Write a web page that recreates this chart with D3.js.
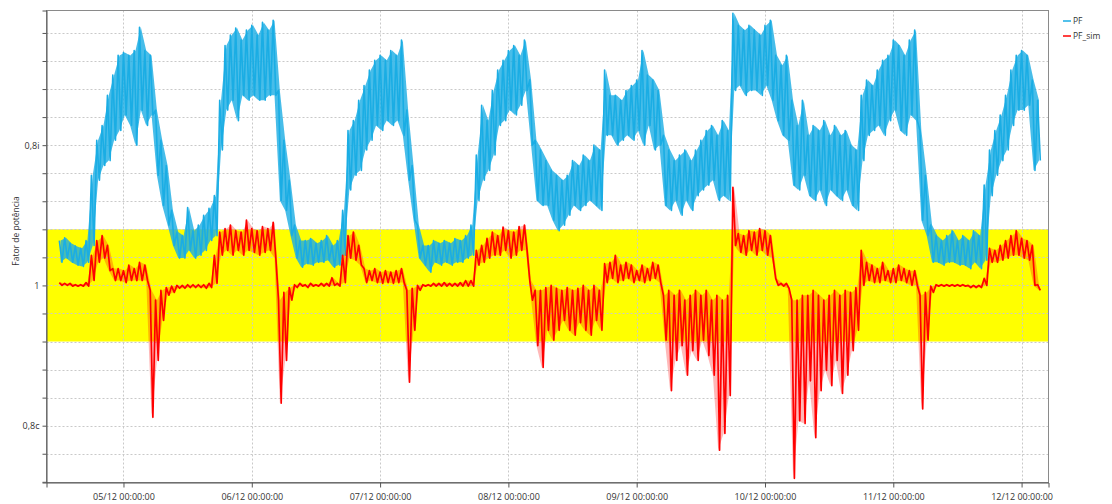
<!DOCTYPE html>
<html>
<head>
<meta charset="utf-8">
<script src="https://cdn.jsdelivr.net/npm/d3@7"></script>
<style>
  body { margin: 0; background: #fff; }
  svg { font-family: "Open Sans", sans-serif; }
</style>
</head>
<body>
<svg width="1112" height="504"></svg>
<script>
// hourly readings starting 04/12 12:00, top (hi) and bottom (lo) of the noisy trace in each hour
// y values: 1 = unity PF, above 1 = inductive (1.2 -> 0,8i), below 1 = capacitive (0.8 -> 0,8c)
var startTime = new Date(2019, 11, 4, 12, 0, 0);

var pfHigh = [
  1.064, 1.068, 1.060, 1.056, 1.053, 1.064, 1.157, 1.207, 1.228, 1.271, 1.300, 1.328,
  1.332, 1.328, 1.335, 1.368, 1.335, 1.328, 1.250, 1.207, 1.171, 1.107, 1.076, 1.071,
  1.111, 1.078, 1.086, 1.100, 1.110, 1.128, 1.264, 1.342, 1.357, 1.367, 1.350, 1.364,
  1.371, 1.357, 1.375, 1.364, 1.378, 1.278, 1.207, 1.150, 1.086, 1.064, 1.064, 1.067,
  1.060, 1.064, 1.071, 1.057, 1.064, 1.107, 1.221, 1.235, 1.264, 1.285, 1.307, 1.321,
  1.328, 1.321, 1.335, 1.328, 1.350, 1.250, 1.171, 1.086, 1.057, 1.057, 1.064, 1.060,
  1.064, 1.060, 1.067, 1.064, 1.071, 1.086, 1.186, 1.257, 1.235, 1.278, 1.307, 1.321,
  1.335, 1.342, 1.328, 1.350, 1.293, 1.207, 1.193, 1.178, 1.164, 1.157, 1.150, 1.157,
  1.178, 1.171, 1.186, 1.178, 1.200, 1.193, 1.307, 1.271, 1.271, 1.264, 1.278, 1.285,
  1.293, 1.335, 1.300, 1.293, 1.278, 1.214, 1.193, 1.178, 1.186, 1.193, 1.178, 1.193,
  1.207, 1.221, 1.228, 1.214, 1.235, 1.221, 1.388, 1.371, 1.364, 1.371, 1.364, 1.357,
  1.371, 1.378, 1.328, 1.314, 1.328, 1.264, 1.228, 1.264, 1.214, 1.228, 1.221, 1.235,
  1.214, 1.228, 1.214, 1.221, 1.200, 1.193, 1.271, 1.293, 1.285, 1.307, 1.321, 1.328,
  1.350, 1.342, 1.328, 1.350, 1.364, 1.221, 1.157, 1.086, 1.071, 1.064, 1.071, 1.078,
  1.064, 1.071, 1.064, 1.078, 1.071, 1.143, 1.193, 1.221, 1.243, 1.271, 1.307, 1.328,
  1.335, 1.328, 1.293, 1.264
];
var pfLow = [
  1.033, 1.039, 1.033, 1.029, 1.027, 1.033, 1.057, 1.150, 1.171, 1.178, 1.207, 1.221,
  1.243, 1.228, 1.200, 1.250, 1.228, 1.243, 1.157, 1.114, 1.086, 1.057, 1.039, 1.039,
  1.050, 1.039, 1.043, 1.050, 1.064, 1.071, 1.193, 1.250, 1.264, 1.235, 1.271, 1.264,
  1.271, 1.264, 1.264, 1.271, 1.271, 1.121, 1.107, 1.071, 1.039, 1.026, 1.031, 1.029,
  1.033, 1.033, 1.036, 1.026, 1.029, 1.043, 1.136, 1.157, 1.164, 1.193, 1.207, 1.228,
  1.221, 1.235, 1.228, 1.235, 1.214, 1.150, 1.093, 1.039, 1.029, 1.019, 1.033, 1.029,
  1.033, 1.029, 1.033, 1.033, 1.039, 1.043, 1.121, 1.150, 1.164, 1.186, 1.228, 1.235,
  1.250, 1.243, 1.257, 1.278, 1.200, 1.121, 1.114, 1.114, 1.093, 1.078, 1.086, 1.100,
  1.114, 1.107, 1.114, 1.121, 1.114, 1.107, 1.214, 1.214, 1.200, 1.207, 1.214, 1.207,
  1.221, 1.200, 1.228, 1.193, 1.200, 1.114, 1.107, 1.121, 1.100, 1.121, 1.107, 1.128,
  1.136, 1.143, 1.150, 1.121, 1.128, 1.121, 1.278, 1.285, 1.271, 1.278, 1.278, 1.271,
  1.285, 1.264, 1.235, 1.214, 1.207, 1.143, 1.136, 1.157, 1.128, 1.121, 1.136, 1.114,
  1.136, 1.128, 1.121, 1.136, 1.114, 1.107, 1.178, 1.214, 1.221, 1.228, 1.214, 1.235,
  1.250, 1.221, 1.214, 1.243, 1.235, 1.093, 1.071, 1.033, 1.033, 1.029, 1.033, 1.033,
  1.029, 1.029, 1.024, 1.033, 1.024, 1.036, 1.128, 1.157, 1.178, 1.193, 1.228, 1.250,
  1.250, 1.257, 1.164, 1.178
];
var simHigh = [
  1.004, 1.003, 1.003, 1.001, 1.001, 1.004, 1.043, 1.064, 1.071, 1.057, 1.024, 1.024,
  1.021, 1.029, 1.024, 1.033, 1.029, 0.993, 0.979, 0.993, 0.997, 0.999, 1.000, 1.000,
  1.001, 1.001, 1.001, 1.001, 1.003, 1.043, 1.076, 1.081, 1.086, 1.078, 1.076, 1.093,
  1.081, 1.078, 1.084, 1.081, 1.090, 0.979, 0.990, 0.997, 1.001, 1.003, 1.001, 1.003,
  1.001, 1.003, 1.003, 1.011, 1.003, 1.043, 1.071, 1.076, 1.057, 1.024, 1.021, 1.024,
  1.019, 1.021, 1.019, 1.021, 1.024, 0.993, 0.996, 1.000, 1.001, 1.001, 1.003, 1.003,
  1.004, 1.003, 1.003, 1.004, 1.007, 1.007, 1.050, 1.057, 1.067, 1.076, 1.071, 1.083,
  1.078, 1.076, 1.084, 1.086, 1.007, 0.993, 0.993, 0.997, 1.000, 0.996, 0.993, 0.997,
  0.993, 0.996, 1.000, 0.993, 1.000, 0.993, 1.031, 1.033, 1.043, 1.029, 1.033, 1.029,
  1.021, 1.029, 1.024, 1.033, 1.029, 0.986, 0.993, 0.986, 0.993, 0.979, 0.986, 0.993,
  0.986, 0.993, 0.979, 0.986, 0.979, 0.986, 1.140, 1.074, 1.071, 1.078, 1.076, 1.081,
  1.078, 1.071, 1.010, 1.003, 1.003, 0.979, 0.979, 0.986, 0.986, 0.993, 0.986, 0.979,
  0.986, 0.993, 0.986, 0.993, 0.990, 0.997, 1.050, 1.033, 1.029, 1.024, 1.033, 1.021,
  1.024, 1.029, 1.024, 1.021, 1.021, 0.986, 0.990, 0.999, 1.001, 1.001, 1.001, 1.001,
  1.001, 1.001, 1.000, 1.000, 1.000, 1.010, 1.053, 1.050, 1.057, 1.064, 1.071, 1.078,
  1.067, 1.064, 1.057, 1.001
];
var simLow = [
  1.000, 1.000, 0.999, 0.999, 0.999, 0.999, 1.007, 1.033, 1.039, 1.021, 1.007, 1.007,
  1.004, 1.007, 1.007, 1.007, 1.007, 0.812, 0.893, 0.950, 0.986, 0.990, 0.996, 0.996,
  0.997, 0.997, 0.997, 0.996, 0.997, 1.003, 1.043, 1.050, 1.043, 1.050, 1.043, 1.050,
  1.047, 1.043, 1.047, 1.050, 1.039, 0.832, 0.893, 0.979, 0.997, 0.999, 0.997, 0.999,
  0.999, 0.999, 0.999, 1.000, 0.999, 1.004, 1.039, 1.036, 1.029, 1.004, 1.007, 1.004,
  1.003, 1.004, 1.003, 1.004, 1.004, 0.862, 0.936, 0.993, 0.999, 0.999, 0.999, 0.999,
  0.999, 0.999, 0.999, 0.999, 0.999, 0.999, 1.029, 1.033, 1.039, 1.043, 1.043, 1.050,
  1.039, 1.043, 1.050, 1.050, 0.979, 0.914, 0.883, 0.936, 0.922, 0.936, 0.950, 0.936,
  0.929, 0.947, 0.936, 0.929, 0.950, 0.936, 1.004, 1.010, 1.004, 1.007, 1.010, 1.004,
  1.007, 1.004, 1.007, 1.010, 1.004, 0.922, 0.850, 0.893, 0.914, 0.872, 0.907, 0.893,
  0.922, 0.900, 0.872, 0.765, 0.789, 0.843, 1.057, 1.047, 1.043, 1.050, 1.043, 1.050,
  1.043, 1.039, 1.000, 0.999, 0.996, 0.725, 0.807, 0.803, 0.864, 0.783, 0.850, 0.879,
  0.857, 0.893, 0.846, 0.872, 0.907, 0.936, 1.000, 1.007, 1.004, 1.004, 1.007, 1.004,
  1.004, 1.007, 1.004, 1.000, 1.000, 0.824, 0.922, 0.990, 0.999, 0.999, 0.999, 0.999,
  0.999, 0.999, 0.997, 0.997, 0.997, 1.000, 1.033, 1.033, 1.036, 1.039, 1.043, 1.043,
  1.039, 1.036, 1.000, 0.993
];

// limits of the acceptable band (0,92 inductive .. 0,92 capacitive)
var bandLimits = [0.92, 1.08];
var yTickValues = d3.range(18, 35).map(function(k) { return +(k * 0.04).toFixed(2); });
var yLabelValues = [0.8, 1.0, 1.2];
var yLabelText = ["0,8c", "1", "0,8i"];
var seriesNames = ["PF", "PF_sim"];
var seriesColors = ["#1aade4", "#ff0000"];

var svg = d3.select("svg");
var plot = {left: 46.5, right: 1048.5, top: 10.5, bottom: 482.5};

var x = d3.scaleTime()
    .domain([new Date(2019, 11, 4, 9, 36), new Date(2019, 11, 12, 5, 2)])
    .range([plot.left, plot.right]);
var y = d3.scaleLinear()
    .domain([0.719, 1.392])
    .range([plot.bottom, plot.top]);

// build a trace: top of the hour, then bottom half an hour later
function trace(hi, lo) {
  var pts = [];
  for (var i = 0; i < hi.length; i++) {
    var t = d3.timeHour.offset(startTime, i);
    pts.push({t: t, v: hi[i]});
    pts.push({t: d3.timeMinute.offset(t, 30), v: lo[i]});
  }
  return pts;
}
// envelope of each hour, placed at the quarter past
function envelope(hi, lo) {
  return hi.map(function(h, i) {
    return {t: d3.timeMinute.offset(startTime, i * 60 + 15), hi: h, lo: lo[i]};
  });
}

svg.append("defs").append("clipPath").attr("id", "plotclip")
  .append("rect").attr("x", plot.left).attr("y", plot.top)
  .attr("width", plot.right - plot.left).attr("height", plot.bottom - plot.top);

// yellow band
svg.append("rect")
    .attr("x", plot.left)
    .attr("width", plot.right - plot.left)
    .attr("y", y(bandLimits[1]))
    .attr("height", y(bandLimits[0]) - y(bandLimits[1]))
    .attr("fill", "#ffff00");

// grid
var grid = svg.append("g").attr("stroke", "#c9c9c9").attr("stroke-dasharray", "2,2").attr("stroke-width", 1);
grid.selectAll(".hg").data(yTickValues).enter().append("line")
    .attr("x1", plot.left).attr("x2", plot.right)
    .attr("y1", function(d) { return Math.round(y(d)) + 0.5; })
    .attr("y2", function(d) { return Math.round(y(d)) + 0.5; });
grid.selectAll(".vg").data(x.ticks(d3.timeDay.every(1))).enter().append("line")
    .attr("y1", plot.top).attr("y2", plot.bottom)
    .attr("x1", function(d) { return Math.round(x(d)) + 0.5; })
    .attr("x2", function(d) { return Math.round(x(d)) + 0.5; });

var line = d3.line()
    .x(function(d) { return x(d.t); })
    .y(function(d) { return y(d.v); });
var band = d3.area()
    .x(function(d) { return x(d.t); })
    .y0(function(d) { return y(d.lo); })
    .y1(function(d) { return y(d.hi); });

var lines = svg.append("g").attr("clip-path", "url(#plotclip)");

// each series: envelope fill of the noise, then the zigzag trace on top
[[pfHigh, pfLow, 0.8, 1.6], [simHigh, simLow, 0.28, 1.7]].forEach(function(s, i) {
  lines.append("path")
      .datum(envelope(s[0], s[1]))
      .attr("fill", seriesColors[i])
      .attr("fill-opacity", s[2])
      .attr("d", band);
  lines.append("path")
      .datum(trace(s[0], s[1]))
      .attr("fill", "none")
      .attr("stroke", seriesColors[i])
      .attr("stroke-width", s[3])
      .attr("stroke-linejoin", "round")
      .attr("d", line);
});

// frame
svg.append("rect")
    .attr("x", plot.left).attr("y", plot.top)
    .attr("width", plot.right - plot.left).attr("height", plot.bottom - plot.top)
    .attr("fill", "none").attr("stroke", "#8a8a8a");

// axes
var yAxis = svg.append("g")
    .attr("transform", "translate(" + plot.left + ",0)")
    .call(d3.axisLeft(y)
      .tickValues(yTickValues)
      .tickSize(4)
      .tickFormat(function(d) {
        var k = yLabelValues.findIndex(function(v) { return Math.abs(v - d) < 1e-6; });
        return k < 0 ? "" : yLabelText[k];
      }));
yAxis.select(".domain").attr("stroke", "#555");
yAxis.selectAll(".tick line").attr("stroke", "#555");
yAxis.selectAll("text").attr("font-size", 9).attr("fill", "#333").attr("font-family", "Open Sans");

var xAxis = svg.append("g")
    .attr("transform", "translate(0," + plot.bottom + ")")
    .call(d3.axisBottom(x)
      .ticks(d3.timeDay.every(1))
      .tickSize(5)
      .tickFormat(d3.timeFormat("%d/%m %H:%M:%S")));
xAxis.select(".domain").attr("stroke", "#555");
xAxis.selectAll(".tick line").attr("stroke", "#555");
xAxis.selectAll("text").attr("font-size", 9).attr("fill", "#333").attr("font-family", "Open Sans").attr("dy", "1.05em");

svg.append("text")
    .attr("transform", "translate(19,231) rotate(-90)")
    .attr("text-anchor", "middle")
    .attr("font-size", 8.5)
    .attr("fill", "#333")
    .text("Fator de potência");

// legend
var legend = svg.append("g").selectAll("g").data(seriesNames).enter().append("g")
    .attr("transform", function(d, i) { return "translate(1063," + (21 + i * 15) + ")"; });
legend.append("line").attr("x1", 0).attr("x2", 8)
    .attr("stroke", function(d, i) { return seriesColors[i]; }).attr("stroke-width", 1.5);
legend.append("text").attr("x", 10).attr("dy", "0.35em")
    .attr("font-size", 8.5).attr("fill", "#333")
    .text(function(d) { return d; });
</script>
</body>
</html>
